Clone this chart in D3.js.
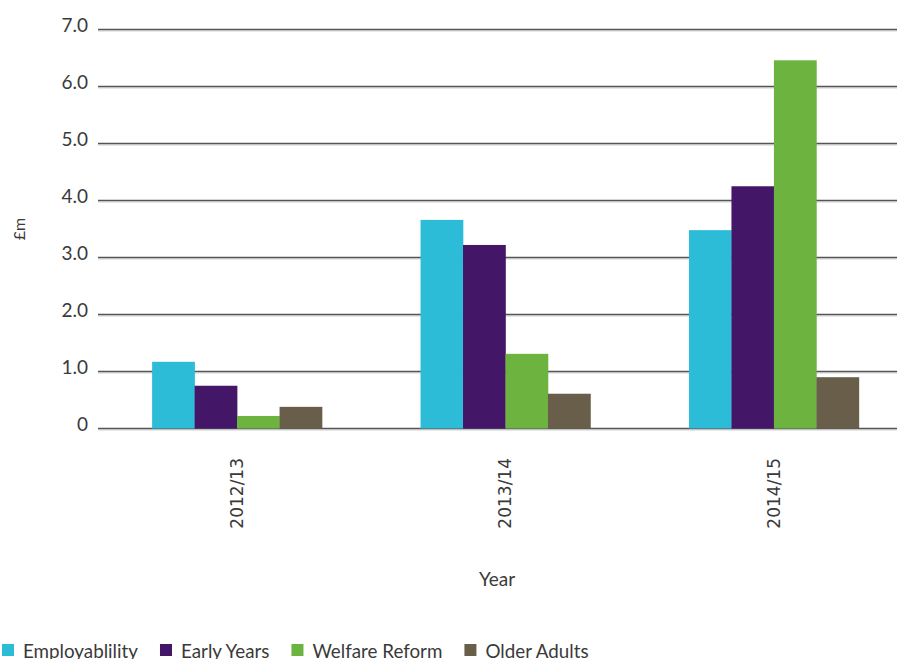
<!DOCTYPE html>
<html><head><meta charset="utf-8">
<script src="https://cdn.jsdelivr.net/npm/d3@7"></script>
<style>body{margin:0;background:#fff}svg{display:block}</style>
</head><body>
<svg id="c" width="897" height="659"></svg>
<script>
const years = ["2012/13","2013/14","2014/15"];
const seriesNames = ["Employablility","Early Years","Welfare Reform","Older Adults"];
const employability = [1.17, 3.66, 3.48];
const earlyYears = [0.75, 3.22, 4.25];
const welfareReform = [0.22, 1.31, 6.46];
const olderAdults = [0.38, 0.61, 0.90];
const yTicks = [0,1,2,3,4,5,6,7];
const colors = ["#2cbcd8","#441668","#6db33f","#685e4a"];

const seriesValues = [employability, earlyYears, welfareReform, olderAdults];
const svg = d3.select("#c");
const textColor = "#3a3a3a";

const y = d3.scaleLinear().domain([0,7]).range([428.5,29.5]);
const x = d3.scaleBand().domain(years).range([103,908]).paddingInner(0.367).paddingOuter(0.183);
const xs = d3.scaleBand().domain(seriesNames).range([0,x.bandwidth()]);

// gridlines
const grid = svg.append("g");
yTicks.forEach(t=>{
  grid.append("line").attr("x1",98).attr("x2",897).attr("y1",y(t)+1.5).attr("y2",y(t)+1.5)
    .attr("stroke","#cfcfcf").attr("stroke-width",1);
  grid.append("line").attr("x1",98).attr("x2",897).attr("y1",y(t)).attr("y2",y(t))
    .attr("stroke","#555").attr("stroke-width",1.4);
});

// y axis labels
const yAxis = d3.axisLeft(y).tickValues(yTicks).tickSize(0).tickPadding(0)
  .tickFormat(d=> d===0 ? "0" : d3.format(".1f")(d));
const yg = svg.append("g").attr("transform","translate(88,-4)").call(yAxis);
yg.select(".domain").remove();
yg.selectAll("text").attr("font-family","Lato").attr("font-size",19).attr("fill",textColor);

// bars
const groups = svg.append("g").selectAll("g").data(years).join("g")
  .attr("transform",d=>`translate(${x(d)},0)`);
groups.selectAll("rect").data((d,i)=>seriesNames.map((s,j)=>({s,v:seriesValues[j][i],c:colors[j]})))
  .join("rect")
  .attr("x",d=>xs(d.s)).attr("width",xs.bandwidth()+0.3)
  .attr("y",d=>y(d.v)).attr("height",d=>y(0)-y(d.v)).attr("fill",d=>d.c);

// x axis labels
const xAxis = d3.axisBottom(x).tickSize(0).tickPadding(0);
const xg = svg.append("g").attr("transform","translate(0,458)").call(xAxis);
xg.select(".domain").remove();
xg.selectAll("text").attr("font-family","DejaVu Sans").attr("font-size",17).attr("fill",textColor)
  .attr("transform","rotate(-90)").attr("text-anchor","end").attr("dy","0.35em").attr("x",0).attr("y",0);

// axis titles
svg.append("text").attr("x",497).attr("y",586).attr("text-anchor","middle")
  .attr("font-family","Lato").attr("font-size",19).attr("fill",textColor).text("Year");
svg.append("text").attr("transform","translate(25,229) rotate(-90)").attr("text-anchor","middle")
  .attr("font-family","Lato").attr("font-size",16).attr("fill",textColor).text("£m");

// legend
const leg = svg.append("g");
let lx = 2;
seriesNames.forEach((s,i)=>{
  leg.append("rect").attr("x",lx).attr("y",644).attr("width",12).attr("height",12).attr("fill",colors[i]);
  const t = leg.append("text").attr("x",lx+21).attr("y",658).attr("font-family","Lato").attr("font-size",18.8)
    .attr("fill",textColor).text(s);
  lx += 21 + t.node().getComputedTextLength() + 22;
});
</script>
</body></html>
